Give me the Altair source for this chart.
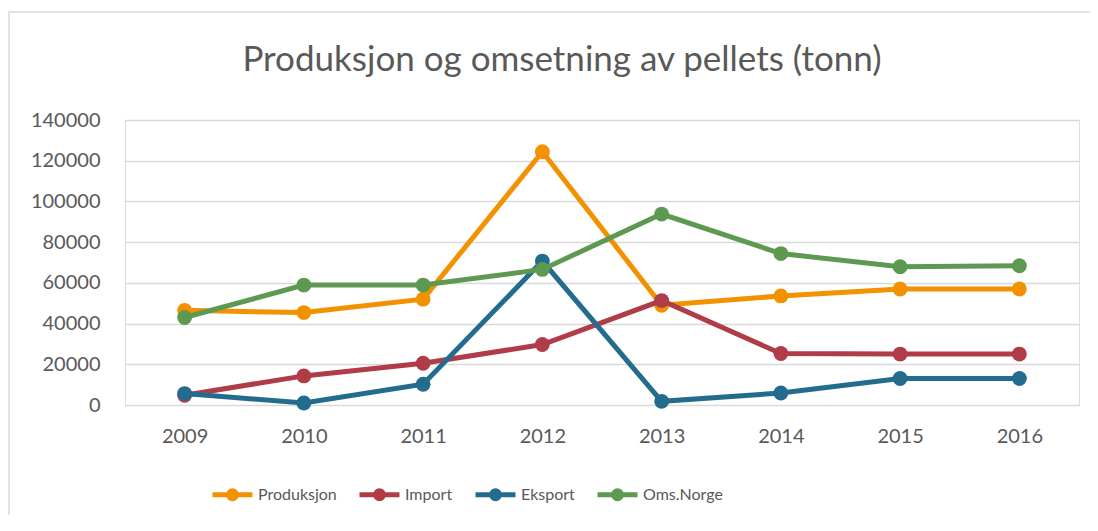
import altair as alt
import pandas as pd

years = ["2009", "2010", "2011", "2012", "2013", "2014", "2015", "2016"]
series = ["Produksjon", "Import", "Eksport", "Oms.Norge"]
produksjon = [46500, 45400, 52000, 124400, 49000, 53600, 57000, 57000]
import_vals = [4800, 14300, 20500, 29700, 51300, 25300, 25000, 25000]
eksport = [5600, 1000, 10200, 70700, 1800, 5900, 13000, 13000]
oms_norge = [43000, 58900, 58900, 66600, 93800, 74400, 67900, 68400]
colors = ["#F39200", "#B03C48", "#236C8E", "#5E9952"]
y_ticks = [0, 20000, 40000, 60000, 80000, 100000, 120000, 140000]

values = [produksjon, import_vals, eksport, oms_norge]
rows = []
for s, vals in zip(series, values):
    for y, v in zip(years, vals):
        rows.append({"year": y, "series": s, "value": v})
df = pd.DataFrame(rows)

FONT = "Lato"
TXT = "#595959"

x_enc = alt.X("year:O", scale=alt.Scale(type="point", padding=0.5), title=None,
              axis=alt.Axis(labelAngle=0, domain=False, ticks=False, grid=False,
                            labelPadding=21, labelFontSize=20, labelColor=TXT, labelFont=FONT))
y_enc = alt.Y("value:Q", scale=alt.Scale(domain=[0, 140000], nice=False), title=None,
              axis=alt.Axis(values=y_ticks, domain=False, ticks=False, grid=True,
                            gridColor="#d9d9d9", gridWidth=1.5, labelPadding=25,
                            labelFontSize=20, labelColor=TXT, labelFont=FONT, format="d"))

sym_path = "M-1,0L1,0M-0.2,0A0.2,0.2,0,1,1,0.2,0A0.2,0.2,0,1,1,-0.2,0Z"
legend = alt.Legend(title=None, orient="none", direction="horizontal", legendX=85, legendY=352,
                    symbolType=sym_path, symbolSize=1600, symbolStrokeWidth=5,
                    labelFont=FONT, labelFontSize=16, labelColor=TXT, labelOffset=3,
                    columnPadding=12)
cscale = alt.Scale(domain=series, range=colors)

frame = alt.Chart(alt.Data(values=[{"a": 1}])).mark_rect(
    fillOpacity=0, stroke="#d9d9d9", strokeWidth=1.5
).encode(x=alt.value(-116), x2=alt.value(1300), y=alt.value(-108), y2=alt.value(700))

layers = [frame]
for s in series:
    base = alt.Chart(df).transform_filter(alt.datum.series == s)
    line = base.mark_line(strokeWidth=5).encode(
        x=x_enc, y=y_enc, stroke=alt.Stroke("series:N", scale=cscale, legend=legend))
    pts = base.mark_circle(size=220, opacity=1).encode(
        x=x_enc, y=y_enc, fill=alt.Fill("series:N", scale=cscale, legend=legend))
    layers += [line, pts]

chart = alt.layer(*layers).properties(
    width=954, height=285,
    autosize=alt.AutoSizeParams(type="none"),
    padding={"left": 117, "top": 112, "right": 11, "bottom": 110},
    title=alt.Title("Produksjon og omsetning av pellets (tonn)", font=FONT, fontSize=35,
                    fontWeight="normal", color=TXT, anchor="middle", dx=-40,
                    baseline="alphabetic", offset=-95),
).configure_view(stroke=None).configure(background="white")

chart.save("out.html", embed_options={"renderer": "svg", "actions": False})
